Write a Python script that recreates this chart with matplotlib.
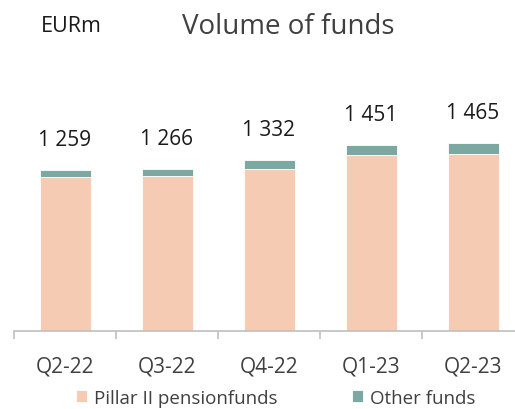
import numpy as np
import matplotlib.pyplot as plt

quarters = ['Q2-22', 'Q3-22', 'Q4-22', 'Q1-23', 'Q2-23']
pillar2 = [1205, 1210, 1262, 1372, 1383]
other = [54, 56, 70, 79, 82]
totals = [1259, 1266, 1332, 1451, 1465]

pink = '#F5CBB3'
green = '#7BA8A0'
grey = '#404040'

plt.rcParams['font.family'] = ['Open Sans', 'DejaVu Sans']

fig = plt.figure(figsize=(5.15, 4.1), dpi=100)
ax = fig.add_axes([14 / 515, 78 / 410, 510 / 515, 0.5])

x = np.arange(len(quarters))
b1 = ax.bar(x, pillar2, width=0.5, color=pink, edgecolor='white', linewidth=0.6,
            label='Pillar II pensionfunds')
b2 = ax.bar(x, other, width=0.5, bottom=pillar2, color=green, edgecolor='white',
            linewidth=0.6, label='Other funds')

for xi, t in zip(x, totals):
    ax.annotate(f'{t:,}'.replace(',', ' '), (xi, t), xytext=(0, 22),
                textcoords='offset points', ha='center', va='center',
                fontsize=15, color='#1a1a1a')

ax.set_xlim(-0.5, 4.5)
ax.set_ylim(0, 1600)
ax.set_yticks([])
for s in ['top', 'right', 'left']:
    ax.spines[s].set_visible(False)
ax.spines['bottom'].set_color('#BFBFBF')
ax.spines['bottom'].set_linewidth(1.2)

ax.set_xticks(x)
ax.set_xticklabels(quarters, fontsize=15, color=grey)
ax.tick_params(axis='x', which='major', length=0, pad=18)
ax.set_xticks(np.arange(-0.5, 5.0, 1.0), minor=True)
ax.tick_params(axis='x', which='minor', length=6, color='#BFBFBF', width=1.2)

fig.text(0.08, 0.935, 'EURm', fontsize=15.5, color='#1a1a1a', va='center')
fig.text(0.56, 0.935, 'Volume of funds', fontsize=20, color=grey,
         va='center', ha='center')

fig.legend(handles=[b1, b2], loc='center', bbox_to_anchor=(0.535, 0.028),
           ncol=2, frameon=False, fontsize=13.5, handlelength=0.6,
           handleheight=0.6, columnspacing=4.0, handletextpad=0.35,
           labelcolor=grey, borderpad=0.2)

fig.savefig('out.png', dpi=100)
